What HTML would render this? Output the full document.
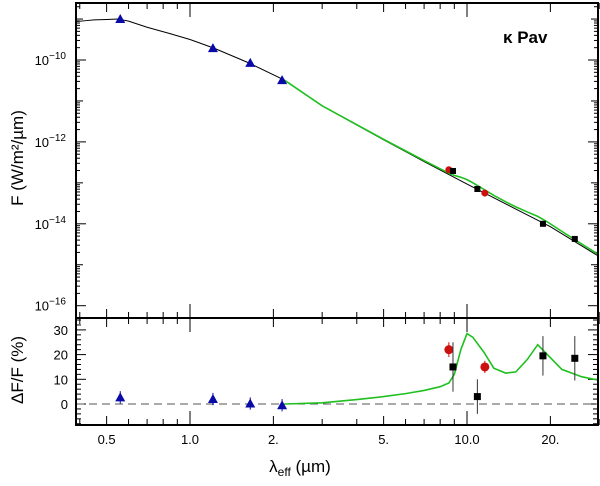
<!DOCTYPE html>
<html><head><meta charset="utf-8"><style>
body{margin:0;background:#fff}
svg text{font-family:"Liberation Sans",sans-serif;fill:#000}
</style></head><body>
<svg id="c" width="600" height="481" xmlns="http://www.w3.org/2000/svg"></svg>
<script>
const specLam=[0.39,0.42,0.45,0.5,0.55,0.6,0.7,0.85,1.0,1.22,1.63,2.19,3.0,5.0,7.0,10.0,15.0,20.0,30.0];
const specLogF=[-9.06,-9.04,-9.02,-9.01,-9.0,-9.05,-9.2,-9.36,-9.5,-9.71,-10.07,-10.49,-11.12,-11.95,-12.48,-13.03,-13.64,-14.07,-14.8];
const excLam=[2.2,3,4,5,6,7,8,8.6,9.0,9.5,10.0,10.5,11.5,12.5,13.8,15,16.5,18.0,19.5,22,26,30];
const excVal=[0,0.5,1.8,3,4.2,5.5,7,8.5,12,22,28.5,27,21,14.5,12.5,13,18,24,20,14,11,9.6];
const photLam=[0.56,1.21,1.65,2.15];
const photLogF=[-9.0,-9.71,-10.07,-10.49];
const photDev=[2.7,2.0,0.2,-0.5];
const redLam=[8.6,11.6];
const redLogF=[-12.68,-13.25];
const redDev=[22,15];
const redErr=[3,2.5];
const sqLam=[8.9,10.9,18.8,24.5];
const sqLogF=[-12.71,-13.15,-14.0,-14.37];
const sqDev=[15,3,19.5,18.5];
const sqErr=[10,7,8,9];
const yTicksTop=[-10,-12,-14,-16];
const yTicksBot=[0,10,20,30];
const xLabels=[[0.5,"0.5"],[1,"1.0"],[2,"2."],[5,"5."],[10,"10.0"],[20,"20."]];

const L=76,R=598,T=3,M=318,B=425;
const X=l=>190+277*Math.log10(l);
const YT=lf=>60+(-10-lf)*40.95;
const YB=v=>404-v*2.47;
const svg=document.getElementById('c');
const NS="http://www.w3.org/2000/svg";
function mk(tag,at,name,parent){const e=document.createElementNS(NS,tag);for(const k in at)e.setAttribute(k,at[k]);


(parent||svg).appendChild(e);return e;}
const cp=mk('clipPath',{id:'ct'},'clip-top');mk('rect',{x:L,y:T,width:R-L,height:M-T},'clip-rect',cp);
const cb=mk('clipPath',{id:'cb'},'clip-bottom');mk('rect',{x:L,y:M,width:R-L,height:B-M},'clip-rect',cb);

for(let d=-1;d<=1;d++)for(let m=1;m<10;m++){const l=m*Math.pow(10,d);if(l<0.39||l>30)continue;const x=X(l);
 const len=(m==1)?14:(m==5||m==2)?9:6;
 [[T,T+len],[M,M-len],[M,M+len],[B,B-len]].forEach(p=>mk('line',{x1:x,x2:x,y1:p[0],y2:p[1],stroke:'#000','stroke-width':1},'x-tick'));}
for(let e=-8;e>=-16;e--)for(let m=1;m<10;m++){const lf=e+Math.log10(m);const y=YT(lf);if(y<T||y>M)continue;
 const len=m==1?(e%2==0?10:7):4;
 mk('line',{x1:L,x2:L+len,y1:y,y2:y,stroke:'#000'},'y-tick');mk('line',{x1:R,x2:R-len,y1:y,y2:y,stroke:'#000'},'y-tick');}
for(let v=-8;v<=34;v+=2){const y=YB(v);const len=v%10==0?10:5;
 mk('line',{x1:L,x2:L+len,y1:y,y2:y,stroke:'#000'},'y-tick-bottom');mk('line',{x1:R,x2:R-len,y1:y,y2:y,stroke:'#000'},'y-tick-bottom');}
yTicksTop.forEach(e=>{const t=mk('text',{x:66,y:YT(e)+5,'font-size':13,'text-anchor':'end'},'y-tick-label');t.innerHTML=`10<tspan dy="-6" font-size="10">−${-e}</tspan>`;});
yTicksBot.forEach(v=>{const t=mk('text',{x:68,y:YB(v)+5,'font-size':13,'text-anchor':'end'},'y-tick-label-bottom');t.textContent=v;});
xLabels.forEach(p=>{const t=mk('text',{x:X(p[0]),y:444,'font-size':13,'text-anchor':'middle'},'x-tick-label');t.textContent=p[1];});

const gt=mk('g',{'clip-path':'url(#ct)'},'top-plot');
mk('path',{d:specLam.map((l,i)=>(i?'L':'M')+X(l)+','+YT(specLogF[i])).join(''),fill:'none',stroke:'#000','stroke-width':1},'model-spectrum',gt);
function interp(xs,ys,x){for(let i=1;i<xs.length;i++)if(x<=xs[i]){const t=(Math.log(x)-Math.log(xs[i-1]))/(Math.log(xs[i])-Math.log(xs[i-1]));return ys[i-1]+t*(ys[i]-ys[i-1]);}return ys[ys.length-1];}
mk('path',{d:excLam.map((l,i)=>(i?'L':'M')+X(l)+','+YT(interp(specLam,specLogF,l)+Math.log10(1+excVal[i]/100))).join(''),fill:'none',stroke:'#1fc01f','stroke-width':1.6},'excess-model',gt);
const tri=(x,y,n,p)=>mk('path',{d:`M${x},${y-5}L${x+5},${y+4}L${x-5},${y+4}Z`,fill:'#0a0aa8'},n,p);
photLam.forEach((l,i)=>tri(X(l),YT(photLogF[i]),'photometry-point',gt));
redLam.forEach((l,i)=>mk('circle',{cx:X(l),cy:YT(redLogF[i]),r:3.5,fill:'#cc1010'},'red-point',gt));
sqLam.forEach((l,i)=>mk('rect',{x:X(l)-3,y:YT(sqLogF[i])-3,width:6,height:6,fill:'#000'},'square-point',gt));

const gb=mk('g',{'clip-path':'url(#cb)'},'bottom-plot');
mk('line',{x1:L,x2:R,y1:YB(0),y2:YB(0),stroke:'#555','stroke-dasharray':'8,5'},'zero-line',gb);
mk('path',{d:excLam.map((l,i)=>(i?'L':'M')+X(l)+','+YB(excVal[i])).join(''),fill:'none',stroke:'#1fc01f','stroke-width':1.6},'excess-curve',gb);
photLam.forEach((l,i)=>{mk('line',{x1:X(l),x2:X(l),y1:YB(photDev[i]+2.5),y2:YB(photDev[i]-2.5),stroke:'#0a0aa8'},'error-bar',gb);tri(X(l),YB(photDev[i]),'photometry-residual',gb);});
redLam.forEach((l,i)=>{mk('line',{x1:X(l),x2:X(l),y1:YB(redDev[i]+redErr[i]),y2:YB(redDev[i]-redErr[i]),stroke:'#cc1010'},'error-bar',gb);mk('circle',{cx:X(l),cy:YB(redDev[i]),r:4.5,fill:'#cc1010'},'red-residual',gb);});
sqLam.forEach((l,i)=>{mk('line',{x1:X(l),x2:X(l),y1:YB(sqDev[i]+sqErr[i]),y2:YB(sqDev[i]-sqErr[i]),stroke:'#333'},'error-bar',gb);mk('rect',{x:X(l)-3.5,y:YB(sqDev[i])-3.5,width:7,height:7,fill:'#000'},'square-residual',gb);});

mk('rect',{x:L,y:T,width:R-L,height:B-T,fill:'none',stroke:'#000','stroke-width':2},'plot-frame');
mk('line',{x1:L,x2:R,y1:M,y2:M,stroke:'#000','stroke-width':2},'panel-divider');
let t=mk('text',{x:503,y:43,'font-size':17,'font-weight':'bold'},'star-label');t.textContent='κ Pav';
t=mk('text',{x:0,y:0,'font-size':17,'text-anchor':'middle',transform:'translate(23,158) rotate(-90)'},'y-axis-title');t.textContent='F (W/m²/µm)';
t=mk('text',{x:0,y:0,'font-size':17,'text-anchor':'middle',transform:'translate(23,370) rotate(-90)'},'y-axis-title-bottom');t.textContent='ΔF/F (%)';
t=mk('text',{x:300,y:472,'font-size':17,'text-anchor':'middle'},'x-axis-title');t.innerHTML='λ<tspan font-size="12" dy="4">eff</tspan><tspan dy="-4"> (µm)</tspan>';
</script>
</body></html>
